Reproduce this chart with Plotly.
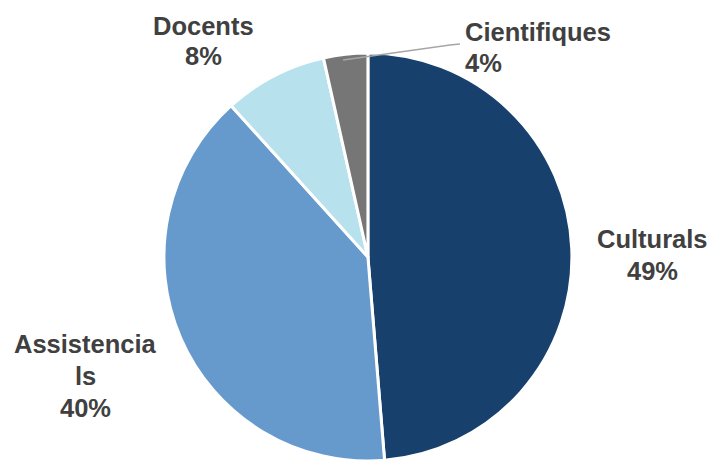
import plotly.graph_objects as go

categories = ["Culturals", "Assistencials", "Docents", "Cientifiques"]
values = [48.7, 39.6, 8.2, 3.5]
label_lines = [["Culturals"], ["Assistencia", "ls"], ["Docents"], ["Cientifiques"]]
colors = ["#17406D", "#6699CC", "#B7E1EC", "#767676"]

total = sum(values)
pcts = [int(v / total * 100 + 0.5) for v in values]

W, H = 712, 461

fig = go.Figure(go.Pie(
    labels=categories,
    values=values,
    sort=False,
    direction="clockwise",
    rotation=0,
    marker=dict(colors=colors, line=dict(color="white", width=3)),
    textinfo="none",
    hoverinfo="label+percent",
    showlegend=False,
    domain=dict(x=[0.2285, 0.805], y=[0.0, 0.885]),
))

font = dict(family="Liberation Sans, Arial, sans-serif", size=25.5, color="#404040")
# label anchor (pixels from top-left): x, first-line center y, line step, xanchor
label_pos = [
    (652, 239, 32, "center"),
    (85, 344, 32, "center"),
    (203, 26, 30, "center"),
    (463, 32, 31, "left"),
]
annotations = []
for lines, p, (x, y0, step, xa) in zip(label_lines, pcts, label_pos):
    for i, t in enumerate(lines + [f"{p}%"]):
        annotations.append(dict(
            x=x / W, y=1 - (y0 + i * step) / H, xref="paper", yref="paper",
            text=f"<b>{t}</b>", showarrow=False,
            xanchor=xa, yanchor="middle", font=font,
        ))

fig.update_layout(
    width=W, height=H,
    margin=dict(l=0, r=0, t=0, b=0),
    paper_bgcolor="white", plot_bgcolor="white",
    annotations=annotations,
    shapes=[
        dict(type="path", xref="paper", yref="paper",
             path=f"M {343/W},{1-60/H} L {450/W},{1-45/H} L {460/W},{1-44/H}",
             line=dict(color="#A6A6A6", width=1.5)),
    ],
)

fig.write_html("out.html", config={"displayModeBar": False},
               post_script="document.body.style.margin='0';")
